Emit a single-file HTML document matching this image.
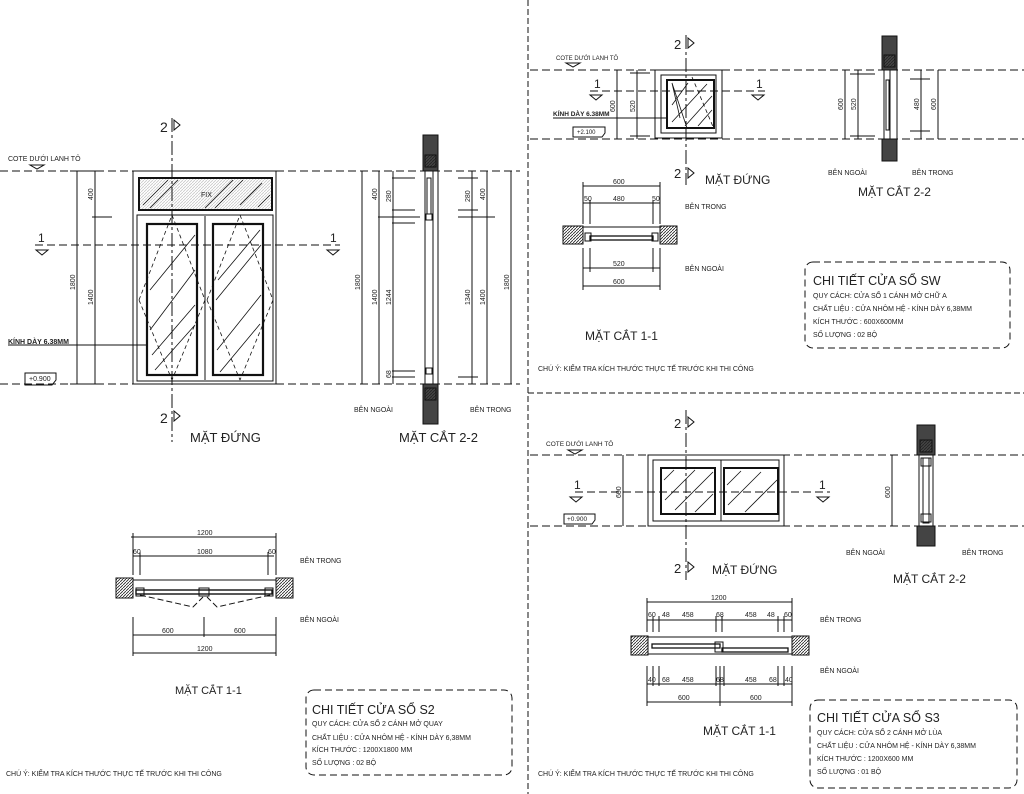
<!DOCTYPE html>
<html><head><meta charset="utf-8"><style>
html,body{margin:0;padding:0;background:#fff}
svg{display:block}
text{font-family:"Liberation Sans","DejaVu Sans",sans-serif;fill:#222}
.s{font-size:7px}
.t{font-size:12px}
.d{font-size:7px}
</style></head><body>
<svg width="1024" height="794" viewBox="0 0 1024 794" xmlns="http://www.w3.org/2000/svg" stroke="#111" fill="none" stroke-width="1">
<defs>
<pattern id="h" width="3" height="3" patternUnits="userSpaceOnUse"><path d="M0 3L3 0" stroke="#222" stroke-width="0.8"/></pattern>
</defs>
<!-- panel separators -->
<line x1="528" y1="0" x2="528" y2="794" stroke-dasharray="6,3"/>
<line x1="528" y1="393" x2="1024" y2="393" stroke-dasharray="6,3"/>

<!-- ================= LEFT PANEL ================= -->
<g stroke-dasharray="8,4">
<line x1="0" y1="171" x2="520" y2="171"/>
<line x1="0" y1="384" x2="520" y2="384"/>
<line x1="35" y1="245" x2="340" y2="245"/>
</g>
<line x1="172" y1="118" x2="172" y2="442" stroke-dasharray="14,3,3,3"/>
<text x="160" y="132" style="font-size:14px" stroke="none">2</text><path d="M174 120l6 5-6 5z"/>
<text x="160" y="423" style="font-size:14px" stroke="none">2</text><path d="M174 411l6 5-6 5z"/>
<text x="38" y="242" class="t" stroke="none">1</text><path d="M36 250h12l-6 5z"/>
<text x="330" y="242" class="t" stroke="none">1</text><path d="M327 250h12l-6 5z"/>
<text x="8" y="161" class="s" stroke="none">COTE DƯỚI LANH TÔ</text><path d="M30 165h14l-7 4z"/>
<!-- window -->
<rect x="133" y="171" width="143" height="213"/>
<rect x="139" y="178" width="133" height="32" stroke-width="2"/>
<rect x="139" y="178" width="133" height="32" fill="url(#h)" opacity="0.25" stroke="none"/>
<text x="201" y="197" class="s" stroke="none">FIX</text>
<g stroke-width="0.8">
<path d="M143 205l25-25M150 208l28-28M205 208l28-28M215 208l28-28M240 205l22-22M258 207l12-12"/>
</g>
<rect x="137" y="215" width="136" height="166"/>
<rect x="147" y="224" width="50" height="151" stroke-width="2.2"/>
<rect x="213" y="224" width="50" height="151" stroke-width="2.2"/>
<line x1="205" y1="216" x2="205" y2="380"/>
<g stroke-width="0.8">
<path d="M150 290l45-55M150 330l45-60M152 355l43-50M155 370l40-45M218 280l42-50M216 300l45-55M217 350l44-55M220 372l40-48"/>
<path d="M139 300l33-85M172 215l33 85M205 300l-33 80M139 300l33 80M207 300l33-85M240 215l33 85M273 300l-33 80M207 300l33 80" stroke-dasharray="4,3"/>
</g>
<!-- dims left -->
<g>
<line x1="77" y1="171" x2="77" y2="384"/><line x1="95" y1="171" x2="95" y2="384"/>
<line x1="92" y1="217" x2="112" y2="217"/>
<line x1="70" y1="171" x2="100" y2="171"/><line x1="70" y1="384" x2="100" y2="384"/>
</g>
<text transform="translate(75,290) rotate(-90)" class="d" stroke="none">1800</text>
<text transform="translate(93,200) rotate(-90)" class="d" stroke="none">400</text>
<text transform="translate(93,305) rotate(-90)" class="d" stroke="none">1400</text>
<text x="8" y="344" class="s" stroke="none" style="font-weight:bold">KÍNH DÀY 6.38MM</text>
<line x1="8" y1="345" x2="148" y2="345"/>
<path d="M25 373h31v7l-4 5h-27z"/><text x="29" y="381" class="s" stroke="none">+0.900</text>
<text x="190" y="442" style="font-size:13px" stroke="none">MẶT ĐỨNG</text>
<!-- section 2-2 left -->
<rect x="423" y="135" width="15" height="36" fill="#444"/>
<rect x="425" y="155" width="11" height="12" fill="url(#h)"/>
<rect x="423" y="384" width="15" height="40" fill="#444"/>
<rect x="425" y="388" width="11" height="12" fill="url(#h)"/>
<line x1="425" y1="171" x2="425" y2="384"/><line x1="433" y1="171" x2="433" y2="384"/><line x1="438" y1="171" x2="438" y2="384"/>
<rect x="427" y="178" width="4" height="36"/><rect x="426" y="214" width="6" height="6"/><rect x="426" y="368" width="6" height="6"/>
<g>
<line x1="362" y1="171" x2="362" y2="384"/><line x1="379" y1="171" x2="379" y2="384"/><line x1="393" y1="171" x2="393" y2="384"/>
<line x1="378" y1="217" x2="420" y2="217"/><line x1="392" y1="178" x2="415" y2="178"/><line x1="392" y1="210" x2="415" y2="210"/><line x1="392" y1="223" x2="415" y2="223"/><line x1="392" y1="371" x2="415" y2="371"/><line x1="392" y1="377" x2="415" y2="377"/>
<line x1="472" y1="171" x2="472" y2="384"/><line x1="487" y1="171" x2="487" y2="384"/><line x1="511" y1="171" x2="511" y2="384"/>
<line x1="458" y1="178" x2="478" y2="178"/><line x1="458" y1="210" x2="478" y2="210"/><line x1="458" y1="217" x2="495" y2="217"/><line x1="458" y1="377" x2="478" y2="377"/>
</g>
<g class="d" stroke="none">
<text transform="translate(360,290) rotate(-90)" class="d">1800</text>
<text transform="translate(377,200) rotate(-90)" class="d">400</text>
<text transform="translate(377,305) rotate(-90)" class="d">1400</text>
<text transform="translate(391,202) rotate(-90)" class="d">280</text>
<text transform="translate(391,305) rotate(-90)" class="d">1244</text>
<text transform="translate(391,378) rotate(-90)" class="d">68</text>
<text transform="translate(470,202) rotate(-90)" class="d">280</text>
<text transform="translate(470,305) rotate(-90)" class="d">1340</text>
<text transform="translate(485,200) rotate(-90)" class="d">400</text>
<text transform="translate(485,305) rotate(-90)" class="d">1400</text>
<text transform="translate(509,290) rotate(-90)" class="d">1800</text>
</g>
<text x="354" y="412" class="s" stroke="none">BÊN NGOÀI</text>
<text x="470" y="412" class="s" stroke="none">BÊN TRONG</text>
<text x="399" y="442" style="font-size:13px" stroke="none">MẶT CẮT 2-2</text>
<!-- section 1-1 left -->
<g>
<line x1="131" y1="537" x2="276" y2="537"/><line x1="133" y1="556" x2="274" y2="556"/>
<line x1="133" y1="533" x2="133" y2="575"/><line x1="276" y1="533" x2="276" y2="575"/>
<line x1="140" y1="552" x2="140" y2="575"/><line x1="268" y1="552" x2="268" y2="575"/>
<line x1="133" y1="635" x2="276" y2="635"/><line x1="133" y1="653" x2="276" y2="653"/>
<line x1="133" y1="617" x2="133" y2="656"/><line x1="276" y1="617" x2="276" y2="656"/><line x1="204" y1="617" x2="204" y2="637"/>
</g>
<rect x="116" y="578" width="17" height="20" fill="url(#h)"/>
<rect x="276" y="578" width="17" height="20" fill="url(#h)"/>
<line x1="133" y1="580" x2="276" y2="580"/>
<rect x="136" y="590" width="136" height="4" stroke-width="1.4"/>
<rect x="136" y="588" width="8" height="8"/><rect x="199" y="588" width="10" height="8"/><rect x="265" y="588" width="8" height="8"/>
<path d="M140 595l53 12l10-10M270 595l-53 12l-10-10" stroke-dasharray="6,3"/>
<g class="d" stroke="none">
<text x="197" y="535" class="d">1200</text><text x="197" y="554" class="d">1080</text><text x="133" y="554" class="d">60</text><text x="268" y="554" class="d">60</text>
<text x="162" y="633" class="d">600</text><text x="234" y="633" class="d">600</text><text x="197" y="651" class="d">1200</text>
</g>
<text x="300" y="563" class="s" stroke="none">BÊN TRONG</text>
<text x="300" y="622" class="s" stroke="none">BÊN NGOÀI</text>
<text x="175" y="694" style="font-size:11px" stroke="none">MẶT CẮT 1-1</text>
<rect x="306" y="690" width="206" height="85" rx="8" stroke-dasharray="7,4"/>
<g stroke="none">
<text x="312" y="714" style="font-size:12.5px">CHI TIẾT CỬA SỔ S2</text>
<text x="312" y="726" class="s">QUY CÁCH: CỬA SỔ 2 CÁNH MỞ QUAY</text>
<text x="312" y="740" class="s">CHẤT LIỆU      : CỬA NHÔM HỆ - KÍNH DÀY 6,38MM</text>
<text x="312" y="752" class="s">KÍCH THƯỚC : 1200X1800 MM</text>
<text x="312" y="765" class="s">SỐ LƯỢNG     : 02 BỘ</text>
<text x="6" y="776" class="s">CHÚ Ý: KIỂM TRA KÍCH THƯỚC THỰC TẾ TRƯỚC KHI THI CÔNG</text>
</g>

<!-- ================= TOP RIGHT ================= -->
<g stroke-dasharray="8,4">
<line x1="530" y1="70" x2="1024" y2="70"/><line x1="530" y1="139" x2="1024" y2="139"/>
<line x1="590" y1="91" x2="765" y2="91"/>
</g>
<line x1="686" y1="35" x2="686" y2="185" stroke-dasharray="14,3,3,3"/>
<text x="674" y="49" style="font-size:13px" stroke="none">2</text><path d="M688 38l6 5-6 5z"/>
<text x="674" y="178" style="font-size:13px" stroke="none">2</text><path d="M688 168l6 5-6 5z"/>
<text x="594" y="88" class="t" stroke="none">1</text><path d="M590 95h12l-6 5z"/>
<text x="756" y="88" class="t" stroke="none">1</text><path d="M752 95h12l-6 5z"/>
<text x="556" y="60" style="font-size:6px" stroke="none">COTE DƯỚI LANH TÔ</text><path d="M566 63h14l-7 4z"/>
<rect x="655" y="70" width="67" height="68"/>
<rect x="661" y="75" width="55" height="58"/>
<rect x="667" y="80" width="47" height="48" stroke-width="2"/>
<path d="M672 105l16-22M672 122l35-38M685 126l27-30M698 126l14-16M680 118l-8-35 15 45" stroke-width="0.8"/>
<path d="M692 77l22 52" stroke-dasharray="4,3" stroke-width="0.8"/>
<line x1="617" y1="70" x2="617" y2="139"/><line x1="637" y1="70" x2="637" y2="139"/>
<line x1="630" y1="73" x2="650" y2="73"/><line x1="630" y1="136" x2="650" y2="136"/>
<text transform="translate(615,112) rotate(-90)" class="d" stroke="none">600</text>
<text transform="translate(635,112) rotate(-90)" class="d" stroke="none">520</text>
<text x="553" y="116" style="font-size:6.5px;font-weight:bold" stroke="none">KÍNH DÀY 6.38MM</text>
<line x1="553" y1="118" x2="668" y2="118"/>
<path d="M573 127h32v6l-3 4h-29z"/><text x="577" y="134" style="font-size:6px" stroke="none">+2.100</text>
<text x="705" y="184" class="t" stroke="none">MẶT ĐỨNG</text>
<!-- 2-2 -->
<rect x="882" y="36" width="15" height="34" fill="#444"/><rect x="884" y="55" width="11" height="12" fill="url(#h)"/>
<rect x="882" y="139" width="15" height="22" fill="#444"/>
<line x1="884" y1="70" x2="884" y2="139"/><line x1="890" y1="70" x2="890" y2="139"/><line x1="897" y1="70" x2="897" y2="139"/>
<rect x="886" y="80" width="3" height="50"/>
<line x1="845" y1="70" x2="845" y2="139"/><line x1="858" y1="70" x2="858" y2="139"/>
<line x1="850" y1="74" x2="875" y2="74"/><line x1="850" y1="136" x2="875" y2="136"/>
<line x1="921" y1="70" x2="921" y2="139"/><line x1="938" y1="70" x2="938" y2="139"/>
<line x1="910" y1="79" x2="930" y2="79"/><line x1="910" y1="131" x2="930" y2="131"/>
<g stroke="none">
<text transform="translate(843,110) rotate(-90)" class="d">600</text>
<text transform="translate(856,110) rotate(-90)" class="d">520</text>
<text transform="translate(919,110) rotate(-90)" class="d">480</text>
<text transform="translate(936,110) rotate(-90)" class="d">600</text>
<text x="828" y="175" class="s">BÊN NGOÀI</text><text x="912" y="175" class="s">BÊN TRONG</text>
<text x="858" y="196" class="t">MẶT CẮT 2-2</text>
</g>
<!-- 1-1 -->
<line x1="583" y1="186" x2="660" y2="186"/><line x1="583" y1="203" x2="660" y2="203"/>
<line x1="583" y1="182" x2="583" y2="224"/><line x1="660" y1="182" x2="660" y2="224"/>
<line x1="590" y1="200" x2="590" y2="224"/><line x1="653" y1="200" x2="653" y2="224"/>
<rect x="563" y="226" width="20" height="18" fill="url(#h)"/><rect x="660" y="226" width="17" height="18" fill="url(#h)"/>
<line x1="583" y1="227" x2="660" y2="227"/>
<rect x="590" y="236" width="63" height="4" stroke-width="1.3"/>
<rect x="585" y="233" width="6" height="8"/><rect x="652" y="233" width="6" height="8"/>
<line x1="583" y1="268" x2="660" y2="268"/><line x1="583" y1="286" x2="660" y2="286"/>
<line x1="583" y1="248" x2="583" y2="290"/><line x1="660" y1="248" x2="660" y2="290"/>
<line x1="590" y1="248" x2="590" y2="272"/><line x1="653" y1="248" x2="653" y2="272"/>
<g stroke="none">
<text x="613" y="184" class="d">600</text><text x="613" y="201" class="d">480</text><text x="584" y="201" class="d">50</text><text x="652" y="201" class="d">50</text>
<text x="613" y="266" class="d">520</text><text x="613" y="284" class="d">600</text>
<text x="685" y="209" class="s">BÊN TRONG</text><text x="685" y="271" class="s">BÊN NGOÀI</text>
<text x="585" y="340" class="t">MẶT CẮT 1-1</text>
</g>
<rect x="805" y="262" width="205" height="86" rx="8" stroke-dasharray="7,4"/>
<g stroke="none">
<text x="813" y="285" style="font-size:12.5px">CHI TIẾT CỬA SỔ SW</text>
<text x="813" y="298" class="s">QUY CÁCH: CỬA SỔ 1 CÁNH MỞ CHỮ A</text>
<text x="813" y="311" class="s">CHẤT LIỆU      : CỬA NHÔM HỆ - KÍNH DÀY 6,38MM</text>
<text x="813" y="324" class="s">KÍCH THƯỚC : 600X600MM</text>
<text x="813" y="337" class="s">SỐ LƯỢNG     : 02 BỘ</text>
<text x="538" y="371" class="s">CHÚ Ý: KIỂM TRA KÍCH THƯỚC THỰC TẾ TRƯỚC KHI THI CÔNG</text>
</g>

<!-- ================= BOTTOM RIGHT ================= -->
<g stroke-dasharray="8,4">
<line x1="530" y1="455" x2="1024" y2="455"/><line x1="530" y1="526" x2="1024" y2="526"/>
<line x1="575" y1="492" x2="830" y2="492"/>
</g>
<line x1="686" y1="410" x2="686" y2="580" stroke-dasharray="14,3,3,3"/>
<text x="674" y="428" style="font-size:13px" stroke="none">2</text><path d="M688 417l6 5-6 5z"/>
<text x="674" y="573" style="font-size:13px" stroke="none">2</text><path d="M688 562l6 5-6 5z"/>
<text x="574" y="489" class="t" stroke="none">1</text><path d="M570 497h12l-6 5z"/>
<text x="819" y="489" class="t" stroke="none">1</text><path d="M817 497h12l-6 5z"/>
<text x="546" y="446" style="font-size:6.5px" stroke="none">COTE DƯỚI LANH TÔ</text><path d="M568 450h14l-7 4z"/>
<rect x="648" y="455" width="136" height="71"/>
<rect x="653" y="460" width="126" height="61"/>
<rect x="661" y="468" width="54" height="46" stroke-width="2"/>
<rect x="724" y="468" width="54" height="46" stroke-width="2"/>
<line x1="721" y1="460" x2="721" y2="521"/>
<path d="M664 480l10-10M665 500l30-30M675 510l38-38M695 512l18-18M727 485l14-14M728 505l33-33M745 512l32-32" stroke-width="0.8"/>
<line x1="623" y1="455" x2="623" y2="526"/>
<text transform="translate(621,498) rotate(-90)" class="d" stroke="none">600</text>
<path d="M564 514h31v6l-3 4h-28z"/><text x="567" y="521" style="font-size:6.5px" stroke="none">+0.900</text>
<text x="712" y="574" class="t" stroke="none">MẶT ĐỨNG</text>
<!-- 2-2 -->
<rect x="917" y="425" width="18" height="30" fill="#444"/><rect x="920" y="440" width="12" height="12" fill="url(#h)"/>
<rect x="917" y="526" width="18" height="20" fill="#444"/>
<line x1="919" y1="455" x2="919" y2="526"/><line x1="933" y1="455" x2="933" y2="526"/>
<rect x="923" y="458" width="6" height="65"/><rect x="921" y="458" width="10" height="8"/><rect x="921" y="514" width="10" height="8"/>
<line x1="892" y1="455" x2="892" y2="526"/>
<text transform="translate(890,498) rotate(-90)" class="d" stroke="none">600</text>
<g stroke="none">
<text x="846" y="555" class="s">BÊN NGOÀI</text><text x="962" y="555" class="s">BÊN TRONG</text>
<text x="893" y="583" class="t">MẶT CẮT 2-2</text>
</g>
<!-- 1-1 -->
<line x1="647" y1="602" x2="792" y2="602"/><line x1="647" y1="620" x2="792" y2="620"/>
<line x1="647" y1="598" x2="647" y2="632"/><line x1="792" y1="598" x2="792" y2="632"/>
<path d="M653 616v16M659 616v16M716 616v16M722 616v16M778 616v16M784 616v16"/>
<rect x="631" y="636" width="17" height="19" fill="url(#h)"/><rect x="792" y="636" width="17" height="19" fill="url(#h)"/>
<line x1="648" y1="637" x2="792" y2="637"/><line x1="648" y1="654" x2="792" y2="654"/>
<rect x="652" y="644" width="68" height="4" stroke-width="1.3"/><rect x="722" y="648" width="66" height="4" stroke-width="1.3"/>
<rect x="715" y="642" width="8" height="10"/>
<line x1="647" y1="684" x2="792" y2="684"/><line x1="647" y1="702" x2="792" y2="702"/>
<line x1="647" y1="666" x2="647" y2="706"/><line x1="792" y1="666" x2="792" y2="706"/><line x1="720" y1="666" x2="720" y2="706"/>
<path d="M653 666v20M659 666v20M716 666v20M724 666v20M778 666v20M784 666v20"/>
<g stroke="none">
<text x="711" y="600" class="d">1200</text>
<text x="648" y="617" class="d">60</text><text x="662" y="617" class="d">48</text><text x="682" y="617" class="d">458</text><text x="716" y="617" class="d">68</text><text x="745" y="617" class="d">458</text><text x="767" y="617" class="d">48</text><text x="784" y="617" class="d">60</text>
<text x="648" y="682" class="d">40</text><text x="662" y="682" class="d">68</text><text x="682" y="682" class="d">458</text><text x="716" y="682" class="d">68</text><text x="745" y="682" class="d">458</text><text x="769" y="682" class="d">68</text><text x="785" y="682" class="d">40</text>
<text x="678" y="700" class="d">600</text><text x="750" y="700" class="d">600</text>
<text x="820" y="622" class="s">BÊN TRONG</text><text x="820" y="673" class="s">BÊN NGOÀI</text>
<text x="703" y="735" class="t">MẶT CẮT 1-1</text>
</g>
<rect x="810" y="700" width="207" height="88" rx="8" stroke-dasharray="7,4"/>
<g stroke="none">
<text x="817" y="722" style="font-size:12.5px">CHI TIẾT CỬA SỔ S3</text>
<text x="817" y="735" class="s">QUY CÁCH: CỬA SỔ 2 CÁNH MỞ LÙA</text>
<text x="817" y="748" class="s">CHẤT LIỆU      : CỬA NHÔM HỆ - KÍNH DÀY 6,38MM</text>
<text x="817" y="761" class="s">KÍCH THƯỚC : 1200X600 MM</text>
<text x="817" y="774" class="s">SỐ LƯỢNG     : 01 BỘ</text>
<text x="538" y="776" class="s">CHÚ Ý: KIỂM TRA KÍCH THƯỚC THỰC TẾ TRƯỚC KHI THI CÔNG</text>
</g>
</svg>
</body></html>
